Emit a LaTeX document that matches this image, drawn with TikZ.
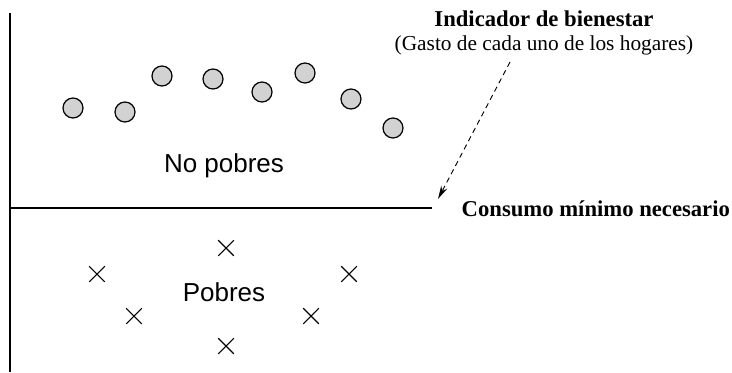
\documentclass[tikz,border=0pt]{standalone}
\usepackage{fontspec}
\setmainfont{Liberation Serif}
\setsansfont{Liberation Sans}
\usetikzlibrary{shapes.misc, arrows.meta}
\definecolor{dotgray}{RGB}{210, 210, 210}

\begin{document}
\begin{tikzpicture}[x=0.75pt, y=-0.75pt]
  \tikzset{
    hogar/.style={circle, draw, fill=dotgray, line width=0.9pt,
      minimum size=15pt, inner sep=0pt},
    pobre/.style={cross out, draw, line width=0.8pt,
      minimum size=11pt, inner sep=0pt},
    zona/.style={font=\sffamily\fontsize{19.5}{22}\selectfont}
  }
  \useasboundingbox (0,0) rectangle (732,372);

  % ejes
  \draw[line width=2pt] (10,13) -- (10,372);
  \draw[line width=0.9pt] (10,208) -- (432,208);

  % hogares no pobres
  \foreach \x/\y [count=\i] in {73/108, 125/112, 162/76, 213/79,
      262/92, 305/73, 351/99, 393/128} {
    \node[hogar] (h\i) at (\x,\y) {};
  }

  % hogares pobres
  \foreach \x/\y [count=\i] in {226/248, 97/274, 349/274, 134/316,
      311/316, 226/346} {
    \node[pobre] (p\i) at (\x,\y) {};
  }

  \node[zona] (nopobres) at (224,166) {No pobres};
  \node[zona] (pobres) at (224,292) {Pobres};

  \node[font=\bfseries\fontsize{17}{20}\selectfont] (indicador) at (544,19)
    {Indicador de bienestar};
  \node[font=\fontsize{16}{19}\selectfont] (gasto) at (544,45)
    {(Gasto de cada uno de los hogares)};
  \node[font=\bfseries\fontsize{17}{20}\selectfont, anchor=west]
    (consumo) at (457,209) {Consumo mínimo necesario};

  \coordinate (flecha) at (510,62);
  \coordinate (limite) at (438,199);
  \draw[line width=0.7pt, dash pattern=on 4pt off 3pt,
    -{Stealth[length=10pt, width=5pt]}] (flecha) -- (limite);

\end{tikzpicture}
\end{document}
